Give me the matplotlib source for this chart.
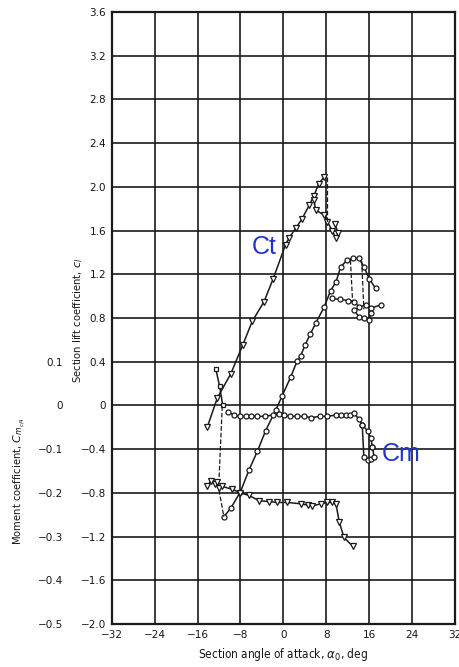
import matplotlib
matplotlib.use("Agg")
import matplotlib.pyplot as plt

# ---------------- data ----------------
# Lift curve, triangles (Ct)
lift_a_alpha = [-14.2, -12.3, -9.8, -7.6, -5.8, -3.6, -1.9, 0.4, 1.0, 2.3, 3.5, 4.8, 5.7, 6.6, 7.6]
lift_a_cl    = [-0.20, 0.07, 0.29, 0.55, 0.77, 0.95, 1.16, 1.47, 1.53, 1.62, 1.71, 1.83, 1.92, 2.03, 2.09]
# post-stall branch of the triangle lift curve
lift_a_stall_alpha = [5.7, 6.0, 7.6, 8.2, 9.1, 9.8, 10.2, 9.6]
lift_a_stall_cl    = [1.88, 1.79, 1.74, 1.68, 1.60, 1.53, 1.58, 1.66]
lift_a_drop_alpha = [8.2, 8.2]
lift_a_drop_cl    = [2.09, 1.68]

# Lift curve, circles
lift_b_alpha = [-11.1, -9.8, -8.0, -6.4, -4.85, -3.3, -1.4, -0.2, 1.36, 2.6, 3.2, 4.0,
                5.0, 6.0, 7.6, 8.8, 9.8, 10.7, 11.9, 12.9, 14.1, 15.0, 16.0, 17.2]
lift_b_cl    = [-1.02, -0.94, -0.79, -0.59, -0.42, -0.23, -0.04, 0.09, 0.26, 0.41, 0.45, 0.55,
                0.65, 0.75, 0.90, 1.05, 1.13, 1.27, 1.33, 1.345, 1.345, 1.27, 1.16, 1.07]
lift_b_stall_alpha = [9.1, 10.5, 12.0, 13.2, 14.1, 15.4, 16.3, 18.2]
lift_b_stall_cl    = [0.98, 0.97, 0.96, 0.95, 0.90, 0.92, 0.89, 0.92]
lift_b_clus_alpha = [13.2, 14.1, 15.0, 16.0, 16.3]
lift_b_clus_cl    = [0.87, 0.81, 0.80, 0.78, 0.85]
lift_b_drop1_alpha = [12.5, 12.9]
lift_b_drop1_cl    = [1.33, 0.95]
lift_b_drop2_alpha = [14.6, 15.0]
lift_b_drop2_cl    = [1.32, 0.88]
lift_link_alpha = [-12.0, -11.1]
lift_link_cl    = [-0.775, -1.02]

# Moment curve, circles (Cm)
mom_c_alpha = [-10.4, -9.2, -8.0, -7.0, -6.0, -5.0, -3.5, -2.0, -0.8, 0.2, 1.2, 2.5, 3.8,
               5.2, 6.8, 8.2, 9.8, 10.7, 11.6, 12.5, 13.2, 14.1, 14.7, 15.7, 16.3, 16.6]
mom_c_cm    = [-0.015, -0.022, -0.025, -0.025, -0.025, -0.025, -0.025, -0.022, -0.020, -0.022,
               -0.025, -0.025, -0.025, -0.028, -0.025, -0.025, -0.022, -0.022, -0.022, -0.022,
               -0.018, -0.032, -0.045, -0.058, -0.075, -0.095]
mom_c_stall_alpha = [14.7, 15.0, 15.7, 16.3, 16.9, 16.6]
mom_c_stall_cm    = [-0.045, -0.118, -0.125, -0.122, -0.118, -0.095]
# square segment
mom_sq_alpha = [-12.6, -11.9, -11.3]
mom_sq_cm    = [0.083, 0.045, 0.0]
mom_dash_alpha = [-11.4, -12.0]
mom_dash_cm    = [-0.002, -0.17]

# Moment curve, triangles
mom_d_alpha = [-14.2, -13.5, -12.8, -12.3, -12.0, -11.5, -9.5, -8.0, -6.4, -4.55, -2.7, -1.1,
               0.75, 3.2, 4.5, 5.4, 7.0, 8.2, 9.1, 9.8, 10.4, 11.3, 12.9]
mom_d_cm    = [-0.185, -0.172, -0.180, -0.175, -0.190, -0.185, -0.192, -0.200, -0.206, -0.218,
               -0.220, -0.222, -0.222, -0.225, -0.228, -0.230, -0.225, -0.222, -0.222, -0.225,
               -0.266, -0.302, -0.322]

x_ticks = [-32, -24, -16, -8, 0, 8, 16, 24, 32]
cl_ticks = [-2.0, -1.6, -1.2, -0.8, -0.4, 0, 0.4, 0.8, 1.2, 1.6, 2.0, 2.4, 2.8, 3.2, 3.6]
cm_ticks = [-0.5, -0.4, -0.3, -0.2, -0.1, 0, 0.1]

# ---------------- figure ----------------
plt.rcParams['font.family'] = ['DejaVu Sans']
fig = plt.figure(figsize=(4.59, 6.67), dpi=100)
ax = fig.add_axes([0.2434, 0.0645, 0.748, 0.9175])
ax.set_xlim(-32, 32)
ax.set_ylim(-2.0, 3.6)
ax.set_xticks(x_ticks)
ax.set_yticks(cl_ticks)

def fmt(v):
    s = "0" if v == 0 else ("%.1f" % v if isinstance(v, float) else "%d" % v)
    return s.replace("-", "\u2212")

tcol = '#151515'
ax.set_xticklabels([fmt(v) for v in x_ticks])
ax.set_yticklabels([fmt(float(v)) if v != 0 else "0" for v in cl_ticks])
ax.tick_params(axis='both', length=0, labelsize=7.5, colors=tcol, pad=4)
ax.grid(True, color='#1a1a1a', linewidth=1.2)
ax.set_axisbelow(True)
for s in ax.spines.values():
    s.set_linewidth(1.6)
    s.set_color('#1a1a1a')

ax2 = ax.twinx()
ax2.set_ylim(-0.5, 0.9)
ax2.set_yticks(cm_ticks)
ax2.set_yticklabels([fmt(v) if v != 0 else "0" for v in cm_ticks])
ax2.yaxis.set_ticks_position('left')
ax2.yaxis.set_label_position('left')
ax2.spines['left'].set_position(('outward', 34))
for s in ax2.spines.values():
    s.set_visible(False)
ax2.tick_params(axis='y', length=0, labelsize=7.5, colors=tcol, pad=1)

lc = '#1a1a1a'
mk = dict(mfc='white', mec=lc, mew=0.9, color=lc, lw=1.1)

# lift curves
ax.plot(lift_a_alpha, lift_a_cl, marker='v', ms=4, **mk)
ax.plot(lift_a_stall_alpha, lift_a_stall_cl, marker='v', ms=4, **mk)
ax.plot(lift_a_drop_alpha, lift_a_drop_cl, ls='--', color=lc, lw=0.9)
ax.plot(lift_b_alpha, lift_b_cl, marker='o', ms=3.6, **mk)
ax.plot(lift_b_stall_alpha, lift_b_stall_cl, marker='o', ms=3.6, **mk)
ax.plot(lift_b_clus_alpha, lift_b_clus_cl, marker='o', ms=3.6, **mk)
ax.plot(lift_b_drop1_alpha, lift_b_drop1_cl, ls='--', color=lc, lw=0.9)
ax.plot(lift_b_drop2_alpha, lift_b_drop2_cl, ls='--', color=lc, lw=0.9)
ax.plot(lift_link_alpha, lift_link_cl, ls='--', color=lc, lw=0.9)

# moment curves
ax2.plot(mom_c_alpha, mom_c_cm, marker='o', ms=3.6, **mk)
ax2.plot(mom_c_stall_alpha, mom_c_stall_cm, marker='o', ms=3.6, **mk)
ax2.plot(mom_sq_alpha, mom_sq_cm, marker='s', ms=3.4, **mk)
ax2.plot(mom_dash_alpha, mom_dash_cm, ls='--', color=lc, lw=0.9)
ax2.plot(mom_d_alpha, mom_d_cm, marker='v', ms=3.8, **mk)

# labels
ax.set_xlabel("Section angle of attack, $\\alpha_0$, deg", fontsize=8.5, color=tcol,
              labelpad=5, fontstretch='condensed')
ax.set_ylabel("Section lift coefficient, $c_l$", fontsize=8, color=tcol,
              fontstretch='condensed')
ax.yaxis.set_label_coords(-0.078, 0.497)
ax2.set_ylabel("Moment coefficient, $C_{m_{c/4}}$", fontsize=8, color=tcol,
               fontstretch='condensed')
ax2.yaxis.set_label_coords(-0.247, 0.234)

# blue annotations
ax.text(-3.6, 1.45, "Ct", color='#2233cc', fontsize=18, family='Liberation Sans',
        ha='center', va='center')
ax2.text(22.0, -0.11, "Cm", color='#2233cc', fontsize=18, family='Liberation Sans',
         ha='center', va='center')

fig.savefig("out.png", dpi=100)
